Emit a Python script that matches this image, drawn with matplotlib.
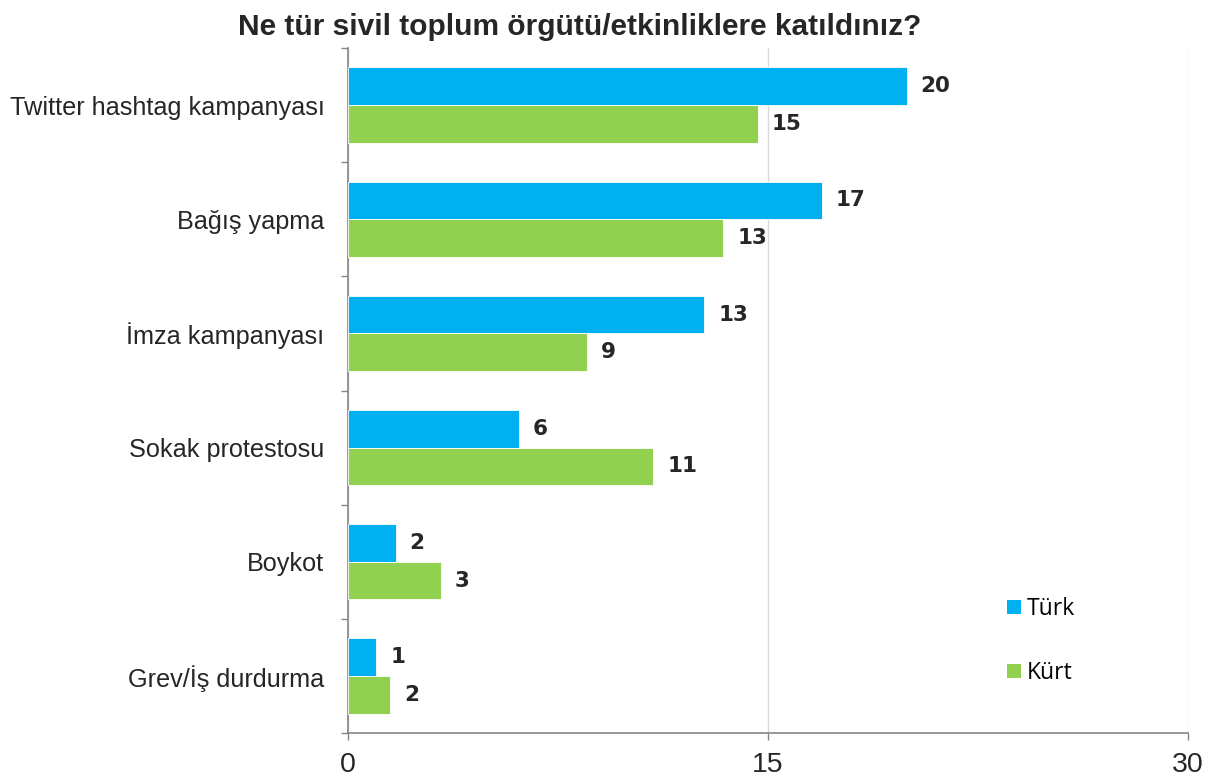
import matplotlib
matplotlib.use("Agg")
import matplotlib.pyplot as plt
from matplotlib.patches import Patch
import numpy as np

# ---- data ----
title = "Ne tür sivil toplum örgütü/etkinliklere katıldınız?"
categories = ["Twitter hashtag kampanyası", "Bağış yapma", "İmza kampanyası",
              "Sokak protestosu", "Boykot", "Grev/İş durdurma"]
series_names = ["Türk", "Kürt"]
turk = [19.95, 16.93, 12.73, 6.10, 1.70, 1.01]
kurt = [14.64, 13.40, 8.52, 10.91, 3.32, 1.51]
xticks = [0, 15, 30]

colors = ["#00B0F0", "#92D050"]
text_color = "#262626"
regular = "Liberation Sans"

W, H = 1226, 780
fig = plt.figure(figsize=(W / 100, H / 100), dpi=100)
L, R, T, B = 348, 1188, 48, 733
ax = fig.add_axes([L / W, 1 - B / H, (R - L) / W, (B - T) / H])

y = np.arange(len(categories))
h = 0.33
bars1 = ax.barh(y - h / 2, turk, height=h, color=colors[0], edgecolor="white",
                linewidth=0.6, label=series_names[0], zorder=3)
bars2 = ax.barh(y + h / 2, kurt, height=h, color=colors[1], edgecolor="white",
                linewidth=0.6, label=series_names[1], zorder=3)

for bars, vals in ((bars1, turk), (bars2, kurt)):
    for b, v in zip(bars, vals):
        ax.annotate(f"{v:.0f}", (b.get_width(), b.get_y() + b.get_height() / 2),
                    xytext=(10, 0), textcoords="offset points", ha="left",
                    va="center", fontsize=15.5, fontweight="bold",
                    family="DejaVu Sans", color=text_color)

ax.set_xlim(0, 30)
ax.set_ylim(len(categories) - 0.5, -0.5)
ax.set_xticks(xticks)
ax.set_xticklabels([str(t) for t in xticks], family=regular, fontsize=20.5,
                   color=text_color)
ax.set_yticks(y)
ax.set_yticklabels(categories, family=regular, fontsize=18.2, color=text_color)
ax.set_yticks(np.arange(len(categories) + 1) - 0.5, minor=True)
ax.tick_params(axis="y", which="major", length=0, pad=17)
ax.tick_params(axis="y", which="minor", length=5, color="#868686", width=1)
ax.tick_params(axis="x", which="major", length=5, color="#868686", width=1, pad=9)

ax.grid(axis="x", color="#D9D9D9", linewidth=1, zorder=0)
for s in ("top", "right"):
    ax.spines[s].set_visible(False)
for s in ("left", "bottom"):
    ax.spines[s].set_color("#868686")
    ax.spines[s].set_linewidth(1.2)

handles = [Patch(facecolor=colors[0]), Patch(facecolor=colors[1])]
fig.legend(handles, series_names, loc="center left",
           bbox_to_anchor=(1007 / W, 1 - 641 / H), frameon=False,
           prop={"family": "Open Sans", "size": 16.5}, handlelength=0.6,
           handleheight=0.6, handletextpad=0.25, labelspacing=1.75,
           borderpad=0, borderaxespad=0)

fig.text(580 / W, 1 - 35 / H, title, ha="center", va="baseline",
         fontsize=21.5, fontweight="bold", family=regular, color=text_color)

fig.savefig("out.png", dpi=100)
